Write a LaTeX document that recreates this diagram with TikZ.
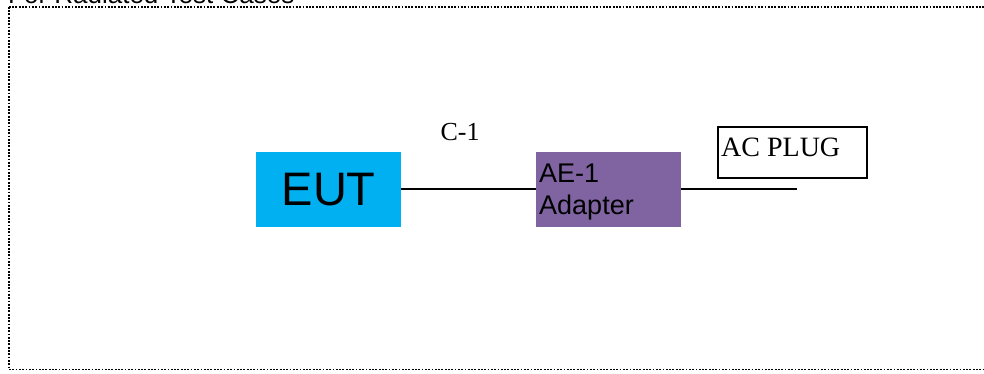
\documentclass[tikz,border=0pt]{standalone}
\usepackage{fontspec}
\setmainfont{Liberation Serif}
\newfontfamily\arialf{Liberation Sans}
\definecolor{eutblue}{HTML}{00B0F0}
\definecolor{aepurple}{HTML}{8064A2}
\begin{document}
\begin{tikzpicture}[x=1pt,y=-1pt,
  boxfill/.style={draw=none,inner sep=0pt,minimum width=145pt,minimum height=75pt},
  wire/.style={line width=1.8pt,black},
  frame/.style={line width=1.8pt,dash pattern=on 1.8pt off 1.5pt}]
\useasboundingbox (0,0) rectangle (984,373);
\clip (0,0) rectangle (984,373);
\node[anchor=base west,inner sep=0pt,font=\arialf\fontsize{26}{30}\selectfont] (title) at (8,3.5) {For Radiated Test Cases};
\draw[frame] (8.8,6.8) -- (1000,6.8) (8.8,6.8) -- (8.8,369.5) -- (1000,369.5);
\node[boxfill,fill=eutblue,anchor=north west,font=\arialf\fontsize{47}{52}\selectfont] (eut) at (256,152) {EUT};
\node[boxfill,fill=aepurple,anchor=north west] (ae) at (536,152) {};
\node[anchor=north west,inner sep=0pt,align=left,font=\arialf\fontsize{27}{32}\selectfont] (aetext) at (539,164) {AE-1\\Adapter};
\node[draw,line width=1.8pt,anchor=north west,minimum width=149pt,minimum height=51pt,inner sep=0pt] (plug) at (717,126) {};
\node[anchor=north west,inner sep=0pt,font=\fontsize{28}{30}\selectfont] (plugtext) at (721,138) {AC PLUG};
\node[inner sep=0pt,font=\fontsize{26}{30}\selectfont] (c1) at (460,132) {C-1};
\coordinate (plugend) at (797,189.3);
\draw[wire] (eut.east |- 0,189.3) -- (ae.west |- 0,189.3);
\draw[wire] (ae.east |- 0,189.3) -- (plugend);
\end{tikzpicture}
\end{document}
